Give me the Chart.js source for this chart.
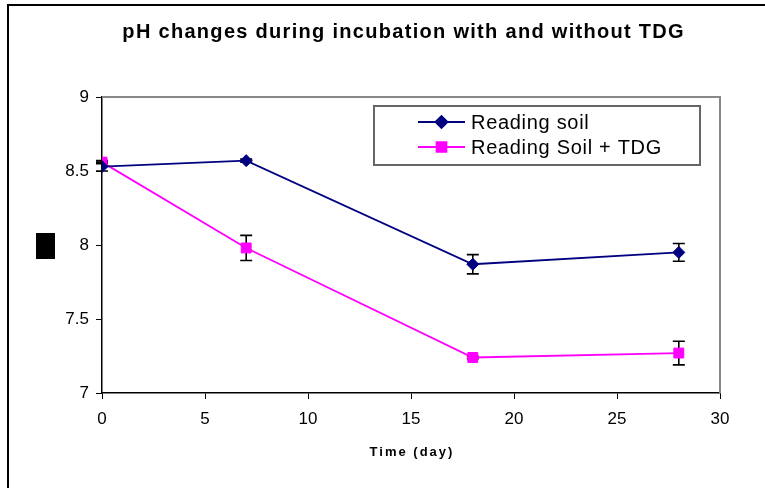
<!DOCTYPE html>
<html>
<head>
<meta charset="utf-8">
<script src="https://cdn.jsdelivr.net/npm/chart.js@4"></script>
<style>
  html, body { margin: 0; padding: 0; background: #fff; }
  #wrap { width: 765px; height: 488px; }
</style>
</head>
<body>
<div id="wrap"><canvas id="myChart" width="765" height="488"></canvas></div>
<script>
// data
const days = [0, 7, 18, 28];
const soilPH = [8.53, 8.57, 7.87, 7.95];
const soilErr = [0.03, 0.01, 0.065, 0.06];
const tdgPH = [8.56, 7.98, 7.24, 7.27];
const tdgErr = [0.01, 0.085, 0.008, 0.08];
const seriesNames = ["Reading soil", "Reading Soil + TDG"];
const xTicks = [0, 5, 10, 15, 20, 25, 30];
const yTicks = [7, 7.5, 8, 8.5, 9];
const chartTitle = 'pH changes during incubation with and without TDG';
const xTitle = 'Time (day)';

const FONT = "'Liberation Sans', Arial, sans-serif";
const ctx = document.querySelector("#myChart").getContext('2d');

function toPoints(xs, ys) {
  return xs.map((x, i) => ({ x: x, y: ys[i] }));
}

function spacedText(c, text, x, y, font, spacing) {
  c.save();
  c.font = font;
  c.letterSpacing = spacing + 'px';
  c.fillStyle = '#000';
  c.textAlign = 'left';
  c.textBaseline = 'alphabetic';
  const w = c.measureText(text).width - spacing;
  c.fillText(text, x - w / 2, y);
  c.restore();
}

// outer frame, plot border (top/right), titles, the dark box at the left
const framePlugin = {
  id: 'frame',
  beforeDraw(chart) {
    const c = chart.ctx;
    c.save();
    c.fillStyle = '#fff';
    c.fillRect(0, 0, chart.width, chart.height);
    c.strokeStyle = '#000';
    c.lineWidth = 2;
    c.beginPath();
    c.moveTo(8, chart.height + 5);
    c.lineTo(8, 5);
    c.lineTo(chart.width + 5, 5);
    c.stroke();
    c.restore();
  },
  afterDraw(chart) {
    const a = chart.chartArea;
    const c = chart.ctx;
    c.save();
    c.strokeStyle = '#888';
    c.lineWidth = 2;
    c.beginPath();
    c.moveTo(a.left, a.top);
    c.lineTo(a.right, a.top);
    c.lineTo(a.right, a.bottom);
    c.stroke();
    c.fillStyle = '#000';
    const cy = (a.top + a.bottom) / 2;
    c.fillRect(36, cy - 12, 19, 26);
    c.restore();
    spacedText(c, chartTitle, 403, 38, 'bold 20px ' + FONT, 1.3);
    spacedText(c, xTitle, (a.left + a.right) / 2, 456, 'bold 13px ' + FONT, 2);
  }
};

// error bars from the err arrays, through the scales
const errorBarPlugin = {
  id: 'errorBars',
  beforeDatasetsDraw(chart) {
    const xs = chart.scales.x, ys = chart.scales.y;
    const c = chart.ctx;
    c.save();
    c.strokeStyle = '#000';
    c.lineWidth = 1.6;
    chart.data.datasets.forEach(ds => {
      ds.data.forEach((p, i) => {
        const e = ds.err[i];
        const px = xs.getPixelForValue(p.x);
        const y1 = ys.getPixelForValue(p.y + e);
        const y2 = ys.getPixelForValue(p.y - e);
        c.beginPath();
        c.moveTo(px, y1); c.lineTo(px, y2);
        c.moveTo(px - 6, y1); c.lineTo(px + 6, y1);
        c.moveTo(px - 6, y2); c.lineTo(px + 6, y2);
        c.stroke();
      });
    });
    c.restore();
  }
};

// boxed legend inside the plot
const boxLegendPlugin = {
  id: 'boxLegend',
  afterDraw(chart) {
    const a = chart.chartArea;
    const c = chart.ctx;
    const w = 326, h = 59;
    const lx = a.right - 20 - w, ly = a.top + 9;
    c.save();
    c.fillStyle = '#fff';
    c.fillRect(lx, ly, w, h);
    c.strokeStyle = '#666';
    c.lineWidth = 2;
    c.strokeRect(lx, ly, w, h);
    chart.data.datasets.forEach((ds, i) => {
      const y = ly + 16 + i * 25;
      const x0 = lx + 44, x1 = lx + 91;
      c.strokeStyle = ds.borderColor;
      c.lineWidth = 1.8;
      c.beginPath();
      c.moveTo(x0, y); c.lineTo(x1, y);
      c.stroke();
      Chart.helpers.drawPoint(c, {
        pointStyle: ds.pointStyle, radius: ds.pointRadius, borderWidth: 1
      }, (x0 + x1) / 2, y);
      c.fillStyle = ds.borderColor;
      c.fill();
      c.fillStyle = '#000';
      c.font = '20px ' + FONT;
      c.letterSpacing = '0.7px';
      c.textBaseline = 'alphabetic';
      c.textAlign = 'left';
      c.fillText(ds.label, lx + 97, y + 7);
      c.letterSpacing = '0px';
    });
    c.restore();
  }
};

const config = {
  type: 'line',
  data: {
    datasets: [
      {
        label: seriesNames[0],
        data: toPoints(days, soilPH),
        err: soilErr,
        borderColor: '#000080',
        backgroundColor: '#000080',
        borderWidth: 1.8,
        pointStyle: 'rectRot',
        pointRadius: 6,
        pointBorderWidth: 1
      },
      {
        label: seriesNames[1],
        data: toPoints(days, tdgPH),
        err: tdgErr,
        borderColor: '#ff00ff',
        backgroundColor: '#ff00ff',
        borderWidth: 1.8,
        pointStyle: 'rect',
        pointRadius: 7,
        pointBorderWidth: 1
      }
    ]
  },
  options: {
    responsive: false,
    animation: false,
    layout: { padding: { left: 62, right: 45, top: 97, bottom: 58 } },
    plugins: {
      legend: { display: false },
      tooltip: { enabled: false },
      title: { display: false }
    },
    scales: {
      x: {
        type: 'linear',
        min: 0,
        max: 30,
        afterBuildTicks: s => { s.ticks = xTicks.map(v => ({ value: v })); },
        afterFit: s => { s.height = 37; },
        ticks: { color: '#000', font: { family: FONT, size: 17 }, padding: 10, maxRotation: 0, callback: v => String(v) },
        grid: { drawOnChartArea: false, color: '#000', tickLength: 6 },
        border: { color: '#000', width: 1.5 }
      },
      y: {
        min: 7,
        max: 9,
        afterBuildTicks: s => { s.ticks = yTicks.map(v => ({ value: v })); },
        afterFit: s => { s.width = 40; },
        ticks: { color: '#000', font: { family: FONT, size: 17 }, padding: 7, callback: v => String(v) },
        grid: { drawOnChartArea: false, color: '#000', tickLength: 6 },
        border: { color: '#000', width: 1.5 }
      }
    }
  },
  plugins: [framePlugin, errorBarPlugin, boxLegendPlugin]
};

const chart = new Chart(ctx, config);
</script>
</body>
</html>
